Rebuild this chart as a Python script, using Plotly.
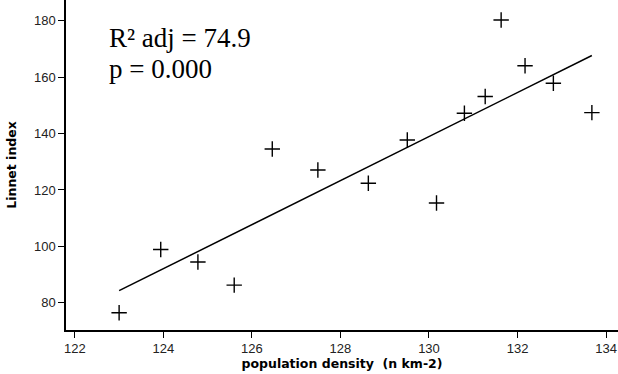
import numpy as np
import plotly.graph_objects as go

# Population density (n km-2) and Linnet index per observation
density = [123.0, 123.94, 124.78, 125.6, 126.46, 127.49, 128.63, 129.51,
           130.17, 130.8, 131.27, 131.63, 132.17, 132.81, 133.68]
linnet = [76.5, 98.9, 94.5, 86.3, 134.5, 127.1, 122.4, 137.7,
          115.4, 147.2, 153.1, 180.2, 164.0, 157.8, 147.4]

x_ticks = [122, 124, 126, 128, 130, 132, 134]
y_ticks = [80, 100, 120, 140, 160, 180]

stats_lines = ["R² adj = 74.9", "p = 0.000"]

# Least-squares fit over the observed density range
slope, intercept = np.polyfit(density, linnet, 1)
fit_x = [min(density), max(density)]
fit_y = [slope * v + intercept for v in fit_x]

fig = go.Figure()
fig.add_trace(go.Scatter(
    x=density, y=linnet, mode="markers",
    marker=dict(symbol="cross-thin-open", size=11, color="black",
                line=dict(color="black", width=1.4)),
    showlegend=False, hoverinfo="x+y",
))
fig.add_trace(go.Scatter(
    x=fit_x, y=fit_y, mode="lines",
    line=dict(color="black", width=1.5),
    showlegend=False, hoverinfo="skip",
))

axis_common = dict(
    showline=True, linecolor="black", linewidth=1.5,
    ticks="outside", ticklen=6, tickwidth=1.2, tickcolor="black",
    showgrid=False, zeroline=False,
    tickfont=dict(family="Liberation Sans, Arial, sans-serif", size=13, color="#222"),
)

title_font = dict(family="DejaVu Sans, Verdana, sans-serif", size=12.5,
                  color="black", weight="bold")

fig.update_xaxes(
    range=[121.8, 134.27], tickvals=x_ticks,
    title=dict(text="population density  (n km-2)", standoff=4, font=title_font),
    **axis_common,
)
fig.update_yaxes(
    range=[70.4, 187.3], tickvals=y_ticks,
    title=dict(text="Linnet index", standoff=15, font=title_font),
    **axis_common,
)

for text, ypos in zip(stats_lines, [0.885, 0.79]):
    fig.add_annotation(
        text=text, xref="paper", yref="paper", x=0.074, y=ypos,
        xanchor="left", yanchor="middle", showarrow=False,
        font=dict(family="Liberation Serif, Times New Roman, serif", size=27, color="black"),
    )

fig.update_layout(
    width=618, height=374,
    margin=dict(l=66, r=0, t=0, b=44),
    plot_bgcolor="white", paper_bgcolor="white",
)

fig.write_html("out.html")
